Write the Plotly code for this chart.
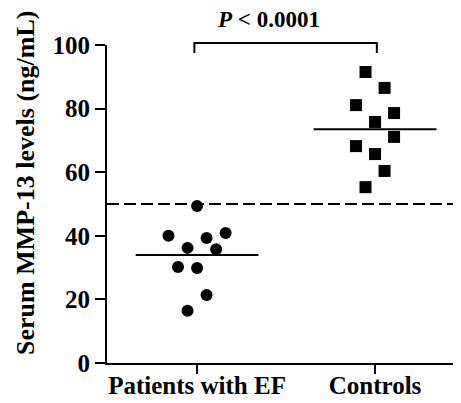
import plotly.graph_objects as go

categories = ["Patients with EF", "Controls"]
patients_values = [49.4, 40.0, 39.3, 40.9, 36.2, 35.8, 30.2, 29.9, 21.4, 16.4]
patients_slots = [0, -3, 1, 3, -1, 2, -2, 0, 1, -1]
controls_values = [91.5, 86.5, 81.1, 78.6, 75.8, 71.1, 68.2, 65.7, 60.4, 55.3]
controls_slots = [-1, 1, -2, 2, 0, 2, -2, 0, 1, -1]
group_means = [34.0, 73.5]
cutoff = 50
y_ticks = [0, 20, 40, 60, 80, 100]
p_label = "<b><i>P</i> < 0.0001</b>"
y_title = "<b>Serum MMP-13 levels (ng/mL)</b>"

SLOT = 0.0535
FONT = "Liberation Serif, Times New Roman, serif"

# page body has an 8px margin; figure is sized so it fills the window
W, H = 453, 395
ML, MT, MB = 99, 37, 40
PW, PH = W - ML, H - MT - MB

fig = go.Figure()
fig.add_trace(go.Scatter(
    x=[0 + s * SLOT for s in patients_slots], y=patients_values, mode="markers",
    marker=dict(symbol="circle", size=12, color="black"), cliponaxis=False, showlegend=False))
fig.add_trace(go.Scatter(
    x=[1 + s * SLOT for s in controls_slots], y=controls_values, mode="markers",
    marker=dict(symbol="square", size=12, color="black"), cliponaxis=False, showlegend=False))

shapes = []
for i, m in enumerate(group_means):
    shapes.append(dict(type="line", xref="x", yref="y", x0=i - 0.345, x1=i + 0.345,
                       y0=m, y1=m, line=dict(color="black", width=2)))
shapes.append(dict(type="line", xref="paper", yref="y", x0=0, x1=1, y0=cutoff, y1=cutoff,
                   line=dict(color="black", width=2, dash="12px,5px")))
# significance bracket
shapes.append(dict(type="path", xref="x", yref="paper",
                   path="M -0.015,0.975 L -0.015,1.006 L 1.01,1.006 L 1.01,0.975",
                   line=dict(color="black", width=2)))
fig.update_layout(shapes=shapes)

fig.add_annotation(x=0.399, y=(355 - 12) / PH, xref="x", yref="paper", text=p_label,
                   showarrow=False, font=dict(family=FONT, size=23, color="black"),
                   xanchor="center", yanchor="middle")
fig.add_annotation(x=(17 - ML) / PW, y=(355 - 175) / PH, xref="paper", yref="paper",
                   text=y_title, showarrow=False, textangle=-90,
                   xanchor="center", yanchor="middle",
                   font=dict(family=FONT, size=26, color="black"))

fig.update_xaxes(range=[-0.506, 1.483], tickvals=[0, 1], ticktext=[f"<b>{c}</b>" for c in categories],
                 showline=True, linecolor="black", linewidth=2, ticks="outside", ticklen=9,
                 tickwidth=2, tickcolor="black", showgrid=False, zeroline=False, automargin=False,
                 ticklabelstandoff=-10,
                 tickfont=dict(family=FONT, size=25, color="black"))
fig.update_yaxes(range=[0, 100], tickvals=y_ticks, ticktext=[f"<b>{t}</b>" for t in y_ticks],
                 showline=True, linecolor="black", linewidth=2, ticks="outside", ticklen=10,
                 tickwidth=2, tickcolor="black", showgrid=False, zeroline=False, automargin=False,
                 tickfont=dict(family=FONT, size=25, color="black"))

fig.update_layout(width=W, height=H, margin=dict(l=ML, r=0, t=MT, b=MB, autoexpand=False),
                  plot_bgcolor="white", paper_bgcolor="white")

fig.write_html("out.html")
